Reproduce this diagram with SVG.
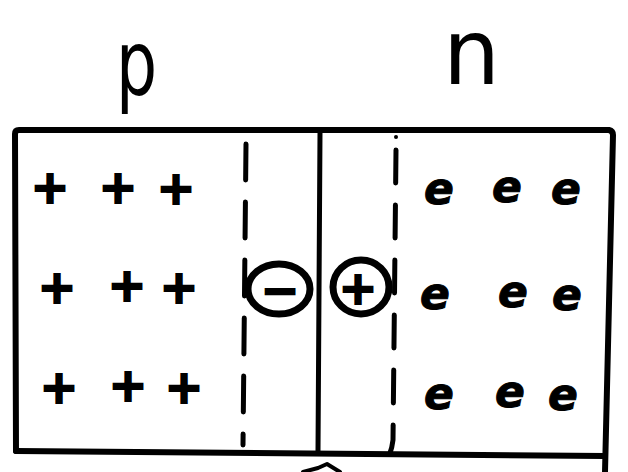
<svg xmlns="http://www.w3.org/2000/svg" width="628" height="472" viewBox="0 0 628 472">
<style>
.ln{fill:none;stroke:#000;stroke-linecap:round;stroke-linejoin:round}
.lbl{font-family:"DejaVu Sans",sans-serif;fill:#000}
.hole{font-family:"DejaVu Sans",sans-serif;font-weight:bold;font-size:46px;text-anchor:middle;fill:#000;stroke:#000;stroke-width:2}
.el{font-family:"DejaVu Sans",sans-serif;font-weight:bold;font-style:italic;font-size:44px;text-anchor:middle;fill:#000;stroke:#000;stroke-width:1}
</style>
<rect width="628" height="472" fill="#fff"/>
<g id="box">
<path class="ln" stroke-width="6" d="M16 451 L15 134 Q15 130 19 130 L609 130 Q613 131 613 135 L605 472"/>
<path class="ln" stroke-width="6" d="M16 451 L605 456"/>
<path class="ln" stroke-width="5" d="M320 133 L318 452"/>
<path class="ln" stroke-width="5" stroke-dasharray="36 22" d="M246 144 L243 445"/>
<circle cx="396" cy="137" r="2"/>
<path class="ln" stroke-width="5" stroke-dasharray="33 22" d="M396 150 L393 440 Q392 448 390 453"/>
<path class="ln" stroke-width="4" d="M303 472 L318 468 L327 464 L340 472"/>
</g>
<g id="label-p"><text class="lbl" font-size="90" transform="translate(116,95) scale(0.72,1)">p</text></g>
<g id="label-n"><text class="lbl" font-size="90" x="443" y="84">n</text></g>
<g id="holes">
<text class="hole" x="50" y="203">+</text>
<text class="hole" x="118" y="203">+</text>
<text class="hole" x="176" y="204">+</text>
<text class="hole" x="57" y="303">+</text>
<text class="hole" x="127" y="301">+</text>
<text class="hole" x="179" y="303">+</text>
<text class="hole" x="59" y="403">+</text>
<text class="hole" x="128" y="401">+</text>
<text class="hole" x="184" y="403">+</text>
</g>
<g id="electrons">
<text class="el" x="439" y="204">e</text>
<text class="el" x="507" y="202">e</text>
<text class="el" x="566" y="204">e</text>
<text class="el" x="435" y="309">e</text>
<text class="el" x="513" y="307">e</text>
<text class="el" x="567" y="310">e</text>
<text class="el" x="439" y="409">e</text>
<text class="el" x="510" y="407">e</text>
<text class="el" x="563" y="410">e</text>
</g>
<g id="ion-minus">
<ellipse class="ln" stroke-width="7" cx="279" cy="289" rx="31" ry="25"/>
<text class="hole" x="280" y="306" stroke-width="3">−</text>
</g>
<g id="ion-plus">
<ellipse class="ln" stroke-width="7" cx="361" cy="287" rx="28" ry="27"/>
<text class="hole" x="358" y="304">+</text>
</g>
</svg>
